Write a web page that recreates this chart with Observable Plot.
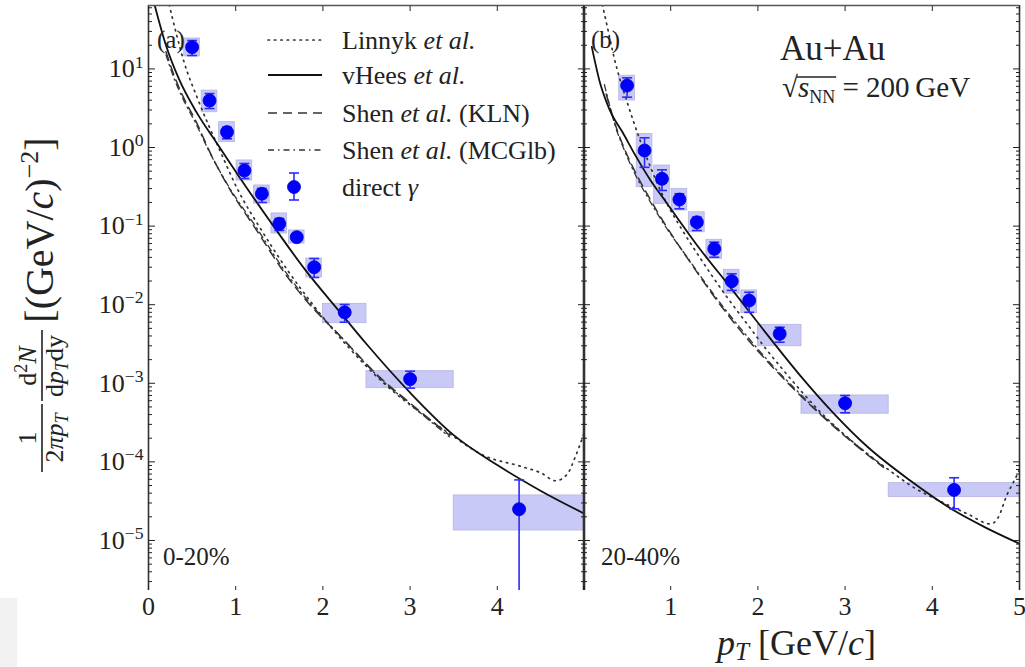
<!DOCTYPE html>
<html>
<head>
<meta charset="utf-8">
<script src="https://cdn.jsdelivr.net/npm/d3@7"></script>
<script src="https://cdn.jsdelivr.net/npm/@observablehq/plot@0.6"></script>
<style>
  html, body { margin: 0; padding: 0; background: #fff; }
  #wrap { position: relative; width: 1025px; height: 667px; overflow: hidden; }
  #left, #right { position: absolute; top: 0; }
  #left { left: 0; }
  #right { left: 583px; }
  #corner { position: absolute; left: 0; top: 598px; width: 17px; height: 69px; background: #f2f2f2; }
  svg { overflow: visible; }
</style>
</head>
<body>
<div id="wrap"><div id="corner"></div><div id="left"></div><div id="right"></div></div>
<script>
const FONT = '"Liberation Serif", "Times New Roman", serif';
const INK = "#222";

// ---- scales / ticks ----
const xDomain = [0, 5];
const yDomain = [2.31e-6, 64.1];
const yMajor = [1e-5, 1e-4, 1e-3, 1e-2, 1e-1, 1, 10];
const yExponent = ["−5", "−4", "−3", "−2", "−1", "0", "1"];
const xTicks = [0, 1, 2, 3, 4, 5];
const xLabelsLeft = [0, 1, 2, 3, 4];
const xLabelsRight = [1, 2, 3, 4, 5];
const yMinor = [];
for (let e = -6; e <= 1; e++) for (let k = 2; k <= 9; k++) { const v = k * Math.pow(10, e); if (v > yDomain[0] && v < yDomain[1]) yMinor.push(v); }

// ---- direct photon data (pT bins) ----
const ptBins  = [0.5, 0.7, 0.9, 1.1, 1.3, 1.5, 1.7, 1.9, 2.25, 3.0, 4.25];
const binLow  = [0.41, 0.61, 0.81, 1.01, 1.21, 1.41, 1.61, 1.81, 2.0, 2.5, 3.5];
const binHigh = [0.59, 0.79, 0.99, 1.19, 1.39, 1.59, 1.79, 1.99, 2.5, 3.5, 5.0];

// 0-20%
const yield020  = [18.9, 3.96, 1.57, 0.51, 0.258, 0.107, 0.0723, 0.030, 0.0080, 0.00113, 2.5e-5];
const statHi020 = [23.0, 4.86, 1.81, 0.626, 0.301, 0.125, 0.0798, 0.0387, 0.01006, 0.001425, 5.9e-5];
const statLo020 = [14.8, 3.13, 1.29, 0.403, 0.200, 0.088, 0.0656, 0.0222, 0.00599, 0.000867, 1e-7];
const sysHi020  = [24.4, 5.3, 2.1, 0.684, 0.329, 0.145, 0.088, 0.0387, 0.01026, 0.001425, 3.74e-5];
const sysLo020  = [14.4, 2.81, 1.17, 0.38, 0.194, 0.0805, 0.060, 0.0222, 0.00582, 0.000867, 1.34e-5];

// 20-40%
const yield2040  = [6.15, 0.916, 0.40, 0.218, 0.112, 0.0514, 0.0199, 0.0113, 0.00426, 0.000558, 4.4e-5];
const statHi2040 = [7.7, 1.33, 0.52, 0.258, 0.13, 0.0624, 0.0247, 0.0144, 0.00517, 0.0007, 6.28e-5];
const statLo2040 = [4.37, 0.56, 0.284, 0.166, 0.088, 0.0402, 0.0152, 0.0080, 0.00333, 0.000421, 2.53e-5];
const sysHi2040  = [8.2, 1.49, 0.59, 0.298, 0.150, 0.067, 0.0278, 0.0152, 0.00555, 0.0007, 5.36e-5];
const sysLo2040  = [3.96, 0.313, 0.192, 0.158, 0.0836, 0.0384, 0.0138, 0.0078, 0.00296, 0.00041, 3.56e-5];

// ---- model curves, 0-20% ----
const linnykPt020 = [0.22, 0.33, 0.41, 0.56, 0.69, 0.8, 1.03, 1.3, 1.6, 1.9, 2.3, 2.7, 3.1, 3.45, 3.85, 4.25, 4.5, 4.67, 4.8, 4.9, 5.0];
const linnyk020   = [79.4, 25.1, 12.0, 4.27, 1.91, 1.02, 0.282, 0.0871, 0.0269, 0.00955, 0.00282, 0.0010, 4.37e-4, 2.29e-4, 1.2e-4, 8.9e-5, 7.24e-5, 5.75e-5, 6.92e-5, 1.2e-4, 2.4e-4];
const vheesPt020  = [0.05, 0.2, 0.35, 0.55, 0.8, 1.1, 1.42, 1.8, 2.2, 2.5, 3.0, 3.5, 4.0, 4.5, 5.0];
const vhees020    = [79.4, 20.0, 7.41, 2.82, 1.07, 0.339, 0.105, 0.0275, 0.00794, 0.00316, 7.6e-4, 2.19e-4, 9.1e-5, 4.27e-5, 2.19e-5];
const shenPt020   = [0.2, 0.3, 0.4, 0.55, 0.7, 0.9, 1.25, 1.55, 1.85, 2.2, 2.65, 3.0, 3.45];
const shenKLN020  = [16.6, 7.94, 4.37, 2.09, 0.891, 0.339, 0.0851, 0.0263, 0.0100, 0.00398, 0.00120, 5.6e-4, 2.19e-4];
const shenMCG020  = [15.1, 7.24, 4.07, 1.95, 0.871, 0.347, 0.0912, 0.0282, 0.0105, 0.00398, 0.00117, 5.4e-4, 2.09e-4];

// ---- model curves, 20-40% ----
const linnykPt2040 = [0.2, 0.29, 0.35, 0.42, 0.5, 0.58, 0.67, 0.78, 0.94, 1.1, 1.34, 1.63, 1.88, 2.07, 2.26, 2.72, 3.06, 3.56, 3.75, 4.09, 4.4, 4.67, 4.75, 4.86, 4.93, 5.0];
const linnyk2040   = [79.4, 28.2, 14.1, 7.24, 3.80, 2.04, 1.07, 0.525, 0.209, 0.102, 0.0389, 0.0132, 0.00562, 0.00295, 0.00162, 4.27e-4, 1.91e-4, 7.08e-5, 5.01e-5, 3.16e-5, 2.19e-5, 1.62e-5, 1.91e-5, 3.89e-5, 5.5e-5, 7.94e-5];
const vheesPt2040  = [0.095, 0.19, 0.3, 0.45, 0.6, 0.77, 0.95, 1.3, 1.7, 2.05, 2.5, 2.85, 3.25, 3.75, 4.25, 4.6, 5.0];
const vhees2040    = [19.1, 6.61, 3.02, 1.55, 0.776, 0.380, 0.200, 0.0575, 0.0158, 0.00501, 0.00120, 4.37e-4, 1.58e-4, 5.75e-5, 2.40e-5, 1.48e-5, 9.1e-6];
const klnPt2040    = [0.26, 0.38, 0.46, 0.57, 0.77, 0.92, 1.23, 1.5, 1.8, 2.14, 2.4, 2.72, 3.06, 3.44];
const shenKLN2040  = [4.79, 1.74, 1.02, 0.550, 0.214, 0.112, 0.0339, 0.0126, 0.00468, 0.00174, 8.7e-4, 3.98e-4, 1.86e-4, 8.5e-5];
const mcgPt2040    = [0.24, 0.38, 0.46, 0.57, 0.77, 0.92, 1.23, 1.5, 1.8, 2.14, 2.4, 2.72, 3.06, 3.44];
const shenMCG2040  = [6.31, 1.66, 0.977, 0.513, 0.200, 0.107, 0.0347, 0.0132, 0.00501, 0.00182, 9.1e-4, 4.07e-4, 1.91e-4, 8.7e-5];

// ---- tables ----
const rows = (v, el, eh, sl, sh) => ptBins.map((pt, i) => ({pt, v: v[i], statLo: el[i], statHi: eh[i], sysLo: sl[i], sysHi: sh[i], x1: binLow[i], x2: binHigh[i]}));
const curve = (pt, v) => pt.map((p, i) => ({pt: p, v: v[i]}));
const pts020 = rows(yield020, statLo020, statHi020, sysLo020, sysHi020);
const pts2040 = rows(yield2040, statLo2040, statHi2040, sysLo2040, sysHi2040);

const lineStyles = {
  linnyk: {stroke: "#333", strokeWidth: 1.7, strokeDasharray: "1.4,5", strokeLinecap: "round"},
  vhees: {stroke: "#111", strokeWidth: 1.8},
  kln: {stroke: "#333", strokeWidth: 1.5, strokeDasharray: "9,6"},
  mcglb: {stroke: "#333", strokeWidth: 1.3, strokeDasharray: "6,4,1.5,4"}
};
const BLUE = "#0000ff", ERR = "#2b2bff", BOX = "#c9c9f7";
const capSymbol = {draw(ctx, size) { const w = Math.sqrt(size / Math.PI); ctx.moveTo(-w, 0); ctx.lineTo(w, 0); }};

function makePanel({width, marginLeft, marginRight, labelsX, showY, pts, models}) {
  const marks = [
    Plot.rect(pts, {x1: "x1", x2: "x2", y1: "sysLo", y2: "sysHi", fill: BOX, stroke: "#b3b3e2", strokeWidth: 0.8}),
    ...Object.entries(models).map(([k, d]) => Plot.line(d, {x: "pt", y: "v", curve: "monotone-x", clip: true, ...lineStyles[k]})),
    Plot.ruleX(pts, {x: "pt", y1: "statLo", y2: "statHi", stroke: ERR, strokeWidth: 1.6, clip: true}),
    Plot.dot(pts, {x: "pt", y: "statHi", symbol: capSymbol, r: 5, stroke: ERR, strokeWidth: 1.6, fill: "none", clip: true}),
    Plot.dot(pts, {x: "pt", y: "statLo", symbol: capSymbol, r: 5, stroke: ERR, strokeWidth: 1.6, fill: "none", clip: true}),
    Plot.dot(pts, {x: "pt", y: "v", r: 6.5, fill: BLUE, stroke: "#0000cc", strokeWidth: 0.8}),
    Plot.ruleX(xDomain, {stroke: "#333", strokeWidth: 1.6}),
    Plot.ruleY([yDomain[1]], {stroke: "#555", strokeWidth: 1.4}),
    Plot.axisX({anchor: "top", ticks: xTicks, tickSize: -5, tickFormat: () => "", label: null}),
    Plot.axisX({anchor: "bottom", ticks: xTicks, tickSize: -4, tickFormat: () => "", label: null}),
    Plot.axisX({anchor: "bottom", ticks: labelsX, tickSize: 0, tickPadding: 6, label: null, tickFormat: d => String(d)}),
    Plot.axisY({anchor: "left", ticks: yMajor, tickSize: -7, tickFormat: () => "", label: null}),
    Plot.axisY({anchor: "left", ticks: yMinor, tickSize: -4, tickFormat: () => "", label: null}),
    Plot.axisY({anchor: "right", ticks: yMajor, tickSize: -7, tickFormat: () => "", label: null}),
    Plot.axisY({anchor: "right", ticks: yMinor, tickSize: -4, tickFormat: () => "", label: null})
  ];
  if (showY) marks.push(Plot.axisY({anchor: "left", ticks: yMajor, tickSize: 0, tickPadding: 5, label: null,
    tickFormat: d => "10|" + yExponent[yMajor.indexOf(d)]}));
  return Plot.plot({
    width, height: 667, marginTop: 5, marginBottom: 77, marginLeft, marginRight,
    x: {domain: xDomain},
    y: {type: "log", domain: yDomain},
    style: {background: "transparent", fontFamily: FONT, fontSize: "26px", color: INK, overflow: "visible"},
    marks
  });
}

const left = makePanel({width: 584, marginLeft: 148, marginRight: 0, labelsX: xLabelsLeft, showY: true, pts: pts020,
  models: {linnyk: curve(linnykPt020, linnyk020), kln: curve(shenPt020, shenKLN020), mcglb: curve(shenPt020, shenMCG020), vhees: curve(vheesPt020, vhees020)}});
const right = makePanel({width: 442, marginLeft: 0, marginRight: 6, labelsX: xLabelsRight, showY: false, pts: pts2040,
  models: {linnyk: curve(linnykPt2040, linnyk2040), kln: curve(klnPt2040, shenKLN2040), mcglb: curve(mcgPt2040, shenMCG2040), vhees: curve(vheesPt2040, vhees2040)}});
document.getElementById("left").appendChild(left);
document.getElementById("right").appendChild(right);

// superscript exponents on y tick labels
d3.select(left).selectAll('g[aria-label="y-axis tick label"] text').each(function () {
  const t = d3.select(this); const s = t.text();
  if (!s.includes("|")) return;
  const [base, ex] = s.split("|");
  t.text(base);
  t.append("tspan").attr("dy", "-0.55em").attr("font-size", "0.68em").text(ex);
});

function addText(sel, x, y, parts, {size = 26, anchor = "start", transform = null} = {}) {
  const t = sel.append("text").attr("x", x).attr("y", y).attr("font-family", FONT).attr("font-size", size)
    .attr("fill", INK).attr("text-anchor", anchor).style("white-space", "pre");
  if (transform) t.attr("transform", transform);
  for (const p of parts) {
    const [s, o = {}] = Array.isArray(p) ? p : [p];
    const ts = t.append("tspan").text(s);
    if (o.i) ts.attr("font-style", "italic");
    if (o.dy != null) ts.attr("dy", o.dy);
    if (o.fs) ts.attr("font-size", o.fs);
  }
  return t;
}

// ---- left panel annotations ----
const L = d3.select(left);
addText(L, 157, 48, ["(a)"], {size: 25});
addText(L, 163, 565, ["0-20%"], {size: 25});

// legend
const legY = [40, 75, 113, 150];
const legKeys = ["linnyk", "vhees", "kln", "mcglb"];
const legTexts = [
  ["Linnyk ", ["et al.", {i: 1}]],
  ["vHees ", ["et al.", {i: 1}]],
  ["Shen ", ["et al.", {i: 1}], " (KLN)"],
  ["Shen ", ["et al.", {i: 1}], " (MCGlb)"]
];
legKeys.forEach((k, i) => {
  const s = lineStyles[k];
  L.append("line").attr("x1", 268).attr("x2", 322).attr("y1", legY[i]).attr("y2", legY[i])
    .attr("stroke", s.stroke).attr("stroke-width", s.strokeWidth).attr("stroke-dasharray", s.strokeDasharray || null)
    .attr("stroke-linecap", s.strokeLinecap || null);
  addText(L, 342, legY[i] + 9, legTexts[i]);
});
// direct gamma legend entry
L.append("line").attr("x1", 294).attr("x2", 294).attr("y1", 173).attr("y2", 200).attr("stroke", ERR).attr("stroke-width", 1.6);
L.append("line").attr("x1", 289).attr("x2", 299).attr("y1", 173).attr("y2", 173).attr("stroke", ERR).attr("stroke-width", 1.6);
L.append("line").attr("x1", 289).attr("x2", 299).attr("y1", 200).attr("y2", 200).attr("stroke", ERR).attr("stroke-width", 1.6);
L.append("circle").attr("cx", 294).attr("cy", 187).attr("r", 6.5).attr("fill", BLUE).attr("stroke", "#0000cc").attr("stroke-width", 0.8);
addText(L, 342, 196, ["direct ", ["γ", {i: 1}]]);

// y-axis label (rotated)
const YL = L.append("g");
YL.append("line").attr("transform", "rotate(-90)").attr("x1", -472).attr("x2", -404).attr("y1", 42).attr("y2", 42).attr("stroke", INK).attr("stroke-width", 1.6);
YL.append("line").attr("transform", "rotate(-90)").attr("x1", -401).attr("x2", -330).attr("y1", 42).attr("y2", 42).attr("stroke", INK).attr("stroke-width", 1.6);
addText(YL, -438, 36, ["1"], {size: 26, anchor: "middle", transform: "rotate(-90)"});
addText(YL, -438, 63, ["2", ["π", {i: 1}], ["p", {i: 1}], ["T", {i: 1, dy: 5, fs: "70%"}]], {size: 26, anchor: "middle", transform: "rotate(-90)"});
addText(YL, -366, 36, ["d", ["2", {dy: -9, fs: "70%"}], ["N", {i: 1, dy: 9}]], {size: 26, anchor: "middle", transform: "rotate(-90)"});
addText(YL, -366, 63, ["d", ["p", {i: 1}], ["T", {i: 1, dy: 5, fs: "70%"}], ["dy", {dy: -5}]], {size: 26, anchor: "middle", transform: "rotate(-90)"});
addText(YL, -230, 53, ["[(GeV/", ["c", {i: 1}], ")", ["−2", {dy: -15, fs: "65%"}], ["]", {dy: 15}]], {size: 40, anchor: "middle", transform: "rotate(-90)"});

// ---- right panel annotations ----
const R = d3.select(right);
addText(R, 8, 48, ["(b)"], {size: 25});
addText(R, 18, 565, ["20-40%"], {size: 25});
addText(R, 197, 60, ["Au+Au"], {size: 35});
const sq = addText(R, 199, 97, ["√", ["s", {i: 1}], ["NN", {dy: 6, fs: "62%"}], [" = 200\u2009GeV", {dy: -6}]], {size: 29});
try {
  const n = sq.node();
  const xa = n.getEndPositionOfChar(0).x - 1;
  const xb = n.getEndPositionOfChar(3).x + 1;
  R.append("line").attr("x1", xa).attr("x2", xb).attr("y1", 77).attr("y2", 77).attr("stroke", INK).attr("stroke-width", 1.5);
} catch (e) {}
// x-axis title
addText(R, 134, 655, [["p", {i: 1}], ["T", {i: 1, dy: 5, fs: "70%"}], [" [GeV/", {dy: -5}], ["c", {i: 1}], "]"], {size: 36});
</script>
</body>
</html>
